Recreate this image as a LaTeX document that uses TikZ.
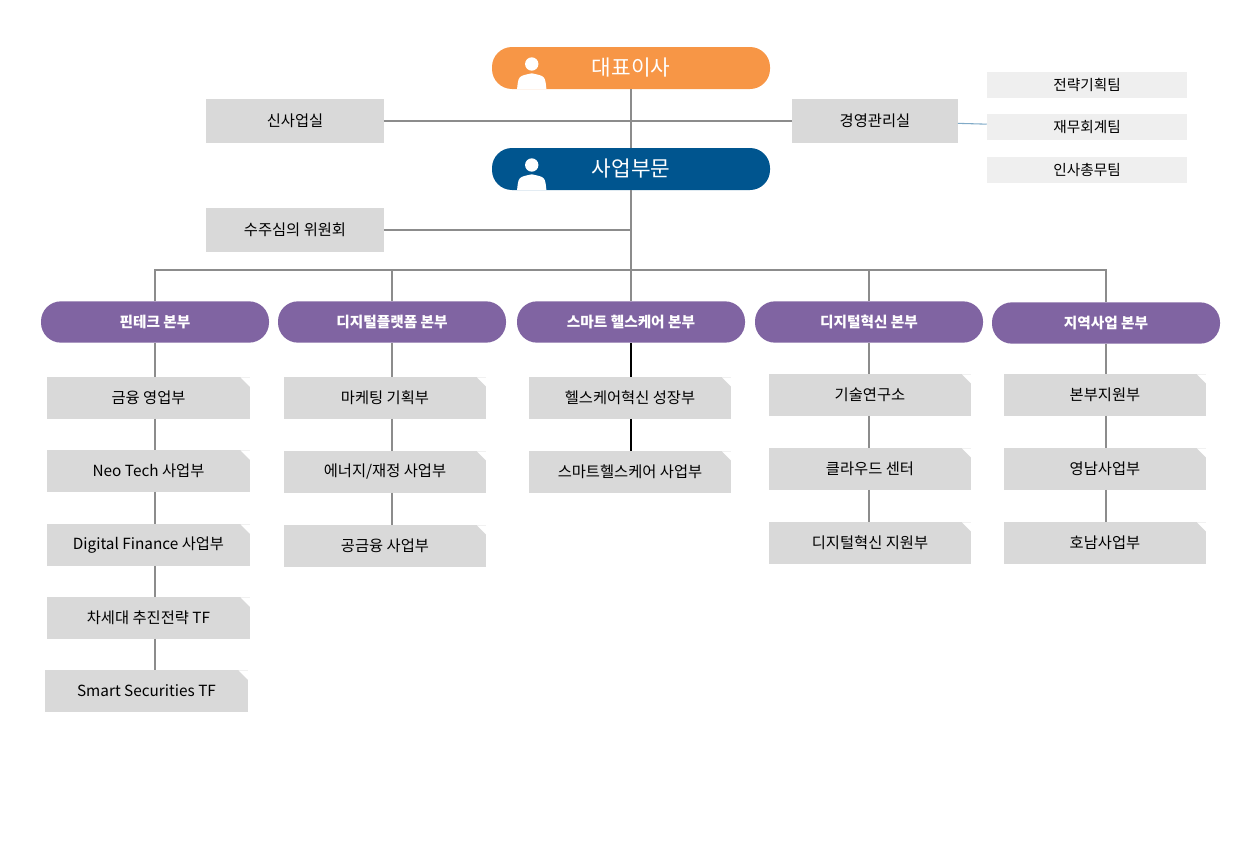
\documentclass[tikz,border=0pt]{standalone}
\usepackage{fontspec}
\setmainfont{Noto Sans CJK KR}
\definecolor{ceoorange}{HTML}{F79646}
\definecolor{bizblue}{HTML}{00558F}
\definecolor{divpurple}{HTML}{8064A2}
\definecolor{boxgray}{HTML}{D9D9D9}
\definecolor{teamgray}{HTML}{EFEFEF}
\definecolor{linegray}{HTML}{8C8C8C}
\tikzset{
	pill/.style={rounded corners=15pt, minimum width=208.5pt, minimum height=31.5pt, text=white, font=\fontsize{16}{16}\selectfont},
	division/.style={rounded corners=15pt, fill=divpurple, minimum width=171pt, minimum height=31pt, text=white, font=\bfseries\fontsize{11}{11}\selectfont},
	office/.style={fill=boxgray, minimum width=133pt, minimum height=33pt, font=\fontsize{11.5}{11.5}\selectfont},
	team/.style={fill=teamgray, minimum width=150pt, minimum height=20pt, font=\fontsize{11}{11}\selectfont},
	unit/.style={fill=boxgray, minimum width=152pt, minimum height=31pt, font=\fontsize{11.5}{11.5}\selectfont,
		path picture={\fill[white] (path picture bounding box.north east) -- ++(-7pt,0) -- ++(7pt,-7pt) -- cycle;}},
	link/.style={draw=linegray, line width=0.8pt},
	person/.style={fill=white}
}
\begin{document}
\begin{tikzpicture}[x=0.75pt, y=-0.75pt]
	\useasboundingbox (0,0) rectangle (1235,846);
	% top
	\node[pill, fill=ceoorange] (ceo) at (631,68) {대표이사};
	\node[pill, fill=bizblue] (biz) at (631,169) {사업부문};
	\foreach \n in {ceo,biz} {
		\fill[person] ([shift={(30pt,3pt)}]\n.west) circle (5pt);
		\fill[person] ([shift={(19pt,-15.75pt)}]\n.west) .. controls ([shift={(20pt,-6pt)}]\n.west) .. ([shift={(30pt,-4pt)}]\n.west)
			.. controls ([shift={(40pt,-6pt)}]\n.west) .. ([shift={(41pt,-15.75pt)}]\n.west) -- cycle;
	}
	\node[office] (newbiz) at (295,121) {신사업실};
	\node[office, minimum width=124pt] (mgmt) at (875,121) {경영관리실};
	\node[team] (strategy) at (1087,85) {전략기획팀};
	\node[team] (finance) at (1087,127) {재무회계팀};
	\node[team] (hr) at (1087,170) {인사총무팀};
	\node[office] (review) at (295,230) {수주심의 위원회};
	\coordinate (hub) at (631,270);
	\draw[link] (ceo) -- (biz);
	\draw[link] (newbiz) -- (mgmt);
	\draw[link, draw=bizblue!50] (mgmt) -- (finance);
	\draw[link] (biz) -- (hub);
	\draw[link] (review.east) -- (review.east -| hub);

	% divisions
	\node[division] (fin) at (155,322) {핀테크 본부};
	\node[division] (plat) at (392,322) {디지털플랫폼 본부};
	\node[division] (health) at (631,322) {스마트 헬스케어 본부};
	\node[division] (dx) at (869,322) {디지털혁신 본부};
	\node[division] (region) at (1106,323) {지역사업 본부};
	\draw[link] (fin.north) |- (hub) -| (region.north);
	\foreach \d in {plat,health,dx}
		\draw[link] (\d.north) -- (\d.north |- hub);

	% units
	\node[unit] (fin1) at (148.5,398) {금융 영업부};
	\node[unit] (fin2) at (148.5,471) {Neo Tech 사업부};
	\node[unit] (fin3) at (148.5,545) {Digital Finance 사업부};
	\node[unit] (fin4) at (148.5,618) {차세대 추진전략 TF};
	\node[unit] (fin5) at (146.5,691) {Smart Securities TF};
	\node[unit] (plat1) at (385,398) {마케팅 기획부};
	\node[unit] (plat2) at (385,472) {에너지/재정 사업부};
	\node[unit] (plat3) at (385,546) {공금융 사업부};
	\node[unit] (health1) at (630,398) {헬스케어혁신 성장부};
	\node[unit] (health2) at (630,472) {스마트헬스케어 사업부};
	\node[unit] (dx1) at (870,395) {기술연구소};
	\node[unit] (dx2) at (870,469) {클라우드 센터};
	\node[unit] (dx3) at (870,543) {디지털혁신 지원부};
	\node[unit] (region1) at (1105,395) {본부지원부};
	\node[unit] (region2) at (1105,469) {영남사업부};
	\node[unit] (region3) at (1105,543) {호남사업부};
	\foreach \d/\a/\b in {fin/fin/fin1, fin/fin1/fin2, fin/fin2/fin3, fin/fin3/fin4, fin/fin4/fin5,
		plat/plat/plat1, plat/plat1/plat2, plat/plat2/plat3,
		dx/dx/dx1, dx/dx1/dx2, dx/dx2/dx3,
		region/region/region1, region/region1/region2, region/region2/region3}
		\draw[link] (\a.south -| \d) -- (\b.north -| \d);
	\draw[link, draw=black] (health.south) -- (health1.north -| health);
	\draw[link, draw=black] (health1.south -| health) -- (health2.north -| health);
\end{tikzpicture}
\end{document}
